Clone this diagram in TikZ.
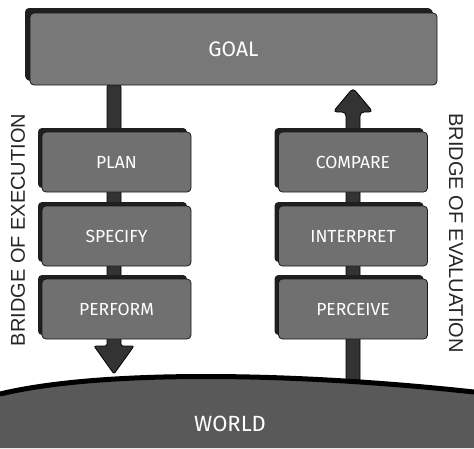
\documentclass[tikz,border=0pt]{standalone}
\usepackage{fontspec}
\setmainfont{Fira Sans}
\newfontfamily\labelfont{Liberation Sans}
\usetikzlibrary{shadows,calc,backgrounds}
\begin{document}
\begin{tikzpicture}[x=1pt,y=-1pt,
  box/.style={draw=black!90, line width=0.8pt, fill=black!56, rounded corners=4pt,
    text=white, font=\fontsize{17.5}{19}\selectfont, minimum width=149pt,
    minimum height=60pt, inner sep=0pt,
    drop shadow={shadow xshift=-4pt, shadow yshift=4pt, fill=black!88, opacity=1}},
  goalbox/.style={box, fill=black!53, minimum width=407pt, minimum height=72pt,
    font=\fontsize{21}{23}\selectfont,
    drop shadow={shadow xshift=-5pt, shadow yshift=5pt, fill=black!88, opacity=1}},
  stem/.style={fill=black!80, draw=black, line width=0.8pt, rounded corners=2pt},
  side/.style={font=\labelfont\fontsize{20}{22}\selectfont, text=black!85, inner sep=0pt},
  worldtext/.style={text=white, font=\fontsize{22}{24}\selectfont, inner sep=0pt}
]
\useasboundingbox (0,0) rectangle (474,448);
% boxes
\node[goalbox] (goal) at (233.5,49) {GOAL};
\node[box] (plan) at (116.5,162) {PLAN};
\node[box] (specify) at (116.5,236) {SPECIFY};
\node[box] (perform) at (116.5,309) {PERFORM};
\node[box] (compare) at (353,162) {COMPARE};
\node[box] (interpret) at (353,236) {INTERPRET};
\node[box] (perceive) at (353,309) {PERCEIVE};
% side labels
\node[side, rotate=90] (bexec) at (18,230) {BRIDGE OF EXECUTION};
\node[side, rotate=-90] (beval) at (456,233) {BRIDGE OF EVALUATION};
% connector coordinates
\coordinate (eT) at (114,85);
\coordinate (eH) at (114,346);
\coordinate (eP) at (114,374);
\coordinate (vB) at (353,386);
\coordinate (vH) at (353,112);
\coordinate (vP) at (353,88);
\begin{scope}[on background layer]
  \draw[stem] ($(eT)+(-7,0)$) -- ($(eH)+(-7,0)$) -- ($(eH)+(-20,0)$) -- (eP)
     -- ($(eH)+(20,0)$) -- ($(eH)+(7,0)$) -- ($(eT)+(7,0)$) -- cycle;
  \draw[stem, rounded corners=4pt] ($(vB)+(-7,0)$) -- ($(vH)+(-7,0)$) -- ($(vH)+(-20,0)$) -- (vP)
     -- ($(vH)+(20,0)$) -- ($(vH)+(7,0)$) -- ($(vB)+(7,0)$) -- cycle;
  % world
  \fill[black!65] (0,394) .. controls (100,370) and (290,372) .. (474,392)
     -- (474,448) -- (0,448) -- cycle;
  \draw[line width=5pt, black] (0,394) .. controls (100,370) and (290,372) .. (474,392);
\end{scope}
\node[worldtext] (world) at (230,424) {WORLD};
\end{tikzpicture}
\end{document}
